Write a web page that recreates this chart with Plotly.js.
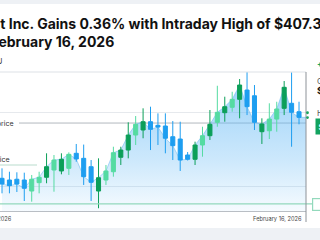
<!DOCTYPE html>
<html><head><meta charset="utf-8">
<script src="https://cdn.plot.ly/plotly-3.0.1.min.js"></script>
<style>html,body{margin:0;padding:0;overflow:hidden;background:#eef1f5}#chart{width:320px;height:240px}</style>
</head><body><div id="chart"></div>
<script>
// ---- data ----
const sessions = [0,1,2,3,4,5,6,7,8,9,10,11,12,13,14,15,16,17,18,19,20,21,22,23,24,25,26,27,28,29,30,31,32,33,34,35,36,37,38,39,40];
const opens  = [397.04,396.81,396.91,396.81,395.32,396.45,397.18,398.16,398.03,398.39,400.42,399.74,398.61,395.32,396.81,397.93,399.88,400.86,402.89,403.57,404.69,404.20,404.11,402.66,402.35,400.19,399.61,401.54,402.80,404.61,405.91,406.64,407.72,408.97,408.20,403.34,403.47,405.05,406.50,407.18,406.04];
const highs  = [398.39,397.93,397.85,397.80,397.49,397.93,400.42,400.19,400.42,400.55,401.68,401.60,399.51,399.74,398.84,401.31,401.31,404.61,405.46,406.50,406.72,405.82,405.82,404.78,404.69,400.59,401.99,404.01,406.27,409.55,408.07,408.74,410.46,411.45,409.65,405.15,407.18,407.39,410.19,411.37,407.39];
const lows   = [395.01,395.01,395.19,393.97,393.88,395.01,396.37,395.23,397.58,397.49,399.28,396.14,393.97,392.99,396.14,397.26,398.84,399.74,401.54,402.45,400.86,401.54,400.42,399.51,398.03,399.45,398.84,399.96,402.22,404.01,404.69,406.04,405.15,405.59,403.57,401.68,402.35,403.34,405.59,401.31,404.34];
const closes = [396.27,396.04,396.27,395.69,396.91,397.18,398.61,399.51,399.61,400.28,399.65,397.26,396.50,397.12,398.03,400.50,400.86,402.89,404.34,404.69,403.66,403.97,402.45,401.45,399.51,399.61,401.54,402.80,404.34,405.96,406.72,407.72,409.65,406.72,404.61,404.38,405.05,406.41,409.34,405.96,405.28];
// sessions whose rising candle is drawn in the lighter green
const lightUp = [4,5,7,9,14,15,18,27,29,31,36,37];
const xTickLabels = ["January 16, 2026", "February 16, 2026"];
const openPrice = 404.51;
const lowPrice = 393.57;
const lastHigh = 407.39;
const changePct = "+0.36%";

// ---- layout helpers ----
const W = 320, H = 240, M = {l: 0, r: 14, t: 72, b: 29};
const pw = W - M.l - M.r, ph = H - M.t - M.b;
const PX = x => (x - M.l) / pw;
const PY = y => (H - M.b - y) / ph;
const xRange = [-0.27, 40.94];
const yRange = [392.62, 411.41];

const BLUE = '#1e9ef0', DG = '#0c9f59', LG = '#55dba2';

const pick = (arr, idx) => idx.map(i => arr[i]);
const lightIdx = sessions.filter(i => lightUp.includes(i));
const mainIdx = sessions.filter(i => !lightUp.includes(i));

const last = closes.length - 1;
const area = {
  type: 'scatter', mode: 'lines', x: sessions.concat([xRange[1]]), y: closes.concat([closes[last]]),
  xaxis: 'x', yaxis: 'y', fill: 'tozeroy', line: {color: 'rgba(95,180,240,0.5)', width: 1},
  fillgradient: {type: 'vertical', start: yRange[0], stop: 409.6,
    colorscale: [[0, 'rgba(100,185,245,0.06)'], [0.4, 'rgba(100,185,245,0.32)'], [0.8, 'rgba(100,185,245,0.52)'], [1, 'rgba(100,185,245,0.62)']]},
  hoverinfo: 'skip', showlegend: false
};
const candMain = {
  type: 'candlestick', x: pick(sessions, mainIdx), open: pick(opens, mainIdx), high: pick(highs, mainIdx),
  low: pick(lows, mainIdx), close: pick(closes, mainIdx), xaxis: 'x2', yaxis: 'y2',
  increasing: {line: {color: DG, width: 1}, fillcolor: DG},
  decreasing: {line: {color: BLUE, width: 1}, fillcolor: BLUE}, showlegend: false
};
const candLight = {
  type: 'candlestick', x: pick(sessions, lightIdx), open: pick(opens, lightIdx), high: pick(highs, lightIdx),
  low: pick(lows, lightIdx), close: pick(closes, lightIdx), xaxis: 'x2', yaxis: 'y2',
  increasing: {line: {color: LG, width: 1}, fillcolor: LG},
  decreasing: {line: {color: BLUE, width: 1}, fillcolor: BLUE}, showlegend: false
};

const txt = (text, x, y, xanchor, font, extra) => Object.assign({
  text, x, y, xref: 'paper', yref: 'paper', xanchor, yanchor: 'middle', showarrow: false,
  font: Object.assign({family: 'Inter, sans-serif', size: 8, color: '#333'}, font)
}, extra || {});

const layout = {
  width: W, height: H, margin: M,
  paper_bgcolor: '#eef1f5', plot_bgcolor: 'rgba(0,0,0,0)',
  title: {text: 'Intuit Inc. Gains 0.36% with Intraday High of $407.39<br>on February 16, 2026',
    xref: 'container', x: 0, xanchor: 'left', pad: {l: -30}, yref: 'container', y: 0.88, yanchor: 'top',
    font: {family: 'Inter, sans-serif', size: 14, weight: 700, color: '#111'}},
  showlegend: false, boxgap: 0.22,
  xaxis: {range: xRange, showgrid: false, zeroline: false, showticklabels: false, ticks: '',
    showline: true, linecolor: '#b9bec4', linewidth: 1, fixedrange: true},
  yaxis: {range: yRange, showgrid: true, gridcolor: '#e6e9ed', tick0: 6, dtick: 10, zeroline: false,
    showticklabels: false, ticks: '', fixedrange: true},
  xaxis2: {range: xRange, overlaying: 'x', visible: false, rangeslider: {visible: false}},
  yaxis2: {range: yRange, overlaying: 'y', visible: false},
  shapes: [
    {type: 'rect', xref: 'paper', yref: 'paper', x0: -0.2, x1: 1.2, y0: PY(228), y1: PY(4), fillcolor: '#ffffff', line: {width: 0}, layer: 'below'},
    {type: 'line', xref: 'paper', yref: 'paper', x0: 0, x1: 1, y0: 1, y1: 1, line: {color: '#dde1e6', width: 1}},
    {type: 'line', xref: 'paper', yref: 'y', x0: PX(19), x1: 1, y0: openPrice, y1: openPrice, line: {color: '#b3b8be', width: 1}, layer: 'below'},
    {type: 'line', xref: 'paper', yref: 'paper', x0: 0, x1: PX(37), y0: PY(165), y1: PY(165), line: {color: '#b9dccd', width: 1}, layer: 'below'},
    {type: 'line', xref: 'paper', yref: 'y', x0: 0, x1: PX(313), y0: lowPrice, y1: lowPrice, line: {color: '#93d9bc', width: 1.3}},
    {type: 'line', xref: 'paper', yref: 'paper', x0: 1, x1: 1, y0: PY(222), y1: 1, line: {color: '#8d9298', width: 1}},
    {type: 'circle', xref: 'paper', yref: 'y', xsizemode: 'pixel', ysizemode: 'pixel', xanchor: PX(307.5), yanchor: closes[last],
      x0: -1.4, x1: 1.4, y0: 3.2, y1: 6, fillcolor: '#17a45e', line: {width: 0}},
    {type: 'circle', xref: 'paper', yref: 'y', xsizemode: 'pixel', ysizemode: 'pixel', xanchor: PX(307.5), yanchor: closes[last],
      x0: -1.4, x1: 1.4, y0: -1.6, y1: 1.2, fillcolor: '#17a45e', line: {width: 0}}
  ],
  annotations: [
    txt('NASDAQ: INTU', PX(4), PY(61), 'right', {size: 8, color: '#444'}),
    txt('Open price', PX(16), PY(123), 'right', {size: 7, color: '#333'}),
    txt('Low price', PX(12), PY(159), 'right', {size: 7, color: '#333'}),
    txt(xTickLabels[0], PX(13.5), PY(218.5), 'right', {size: 5.7, color: '#444'}),
    txt(xTickLabels[1], PX(303.5), PY(218.5), 'right', {size: 5.7, color: '#444'}),
    txt(changePct, PX(315.5), PY(64), 'left', {size: 8, color: '#17a45e', weight: 700}),
    txt('Close', PX(315.5), PY(80.5), 'left', {size: 8, color: '#555'}),
    txt('$' + closes[last].toFixed(2), PX(315.5), PY(90), 'left', {size: 9.5, color: '#111', weight: 700}),
    txt('High', PX(315.5), PY(113), 'left', {size: 8, color: '#555'}),
    txt('$' + lastHigh.toFixed(2), PX(315.5), PY(126.5), 'left', {size: 8, color: '#ffffff', weight: 700},
      {bgcolor: '#12a35f', borderpad: 2.5}),
    txt('&nbsp;&nbsp;&nbsp;&nbsp;Low $' + lowPrice.toFixed(2), PX(312), PY(204), 'left', {size: 7.5, color: '#333'},
      {bgcolor: '#ffffff', bordercolor: '#93d9bc', borderwidth: 1.2, borderpad: 1})
  ]
};

Plotly.newPlot('chart', [area, candMain, candLight], layout, {displayModeBar: false, staticPlot: true});
</script>
</body></html>
